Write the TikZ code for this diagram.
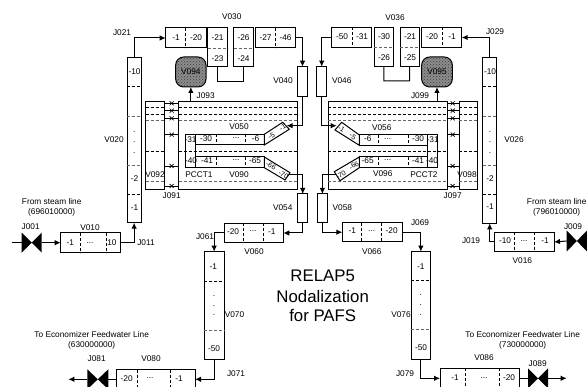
\documentclass[tikz,border=0pt]{standalone}
\usepackage{fontspec}
\setmainfont{Liberation Sans}
\usetikzlibrary{arrows.meta,patterns,calc}
\newcounter{lbcnt}
\newcommand{\bx}[5]{%
  \pgfmathsetmacro{\bxw}{#4-#2}\pgfmathsetmacro{\bxh}{#5-#3}%
  \pgfmathsetmacro{\bxcx}{(#2+#4)/2}\pgfmathsetmacro{\bxcy}{(#3+#5)/2}%
  \node[cell,minimum width=\bxw pt,minimum height=\bxh pt] (#1) at (\bxcx,\bxcy) {};}
\newcommand{\lb}[4][0]{%
  \stepcounter{lbcnt}\node[lbl,rotate=#1] (lb\thelbcnt) at (#2,#3) {#4};}
\newcommand{\slb}[4][0]{%
  \stepcounter{lbcnt}\node[slbl,rotate=#1] (lb\thelbcnt) at (#2,#3) {#4};}
\newcommand{\dvt}[3]{\draw[dv] (#1,#2) -- (#1,#3);}
\newcommand{\dhz}[3]{\draw[dv] (#2,#1) -- (#3,#1);}
\newcommand{\valve}[5]{%
  \fill (#2,#3) -- (#4,#5) -- (#4,#3) -- (#2,#5) -- cycle;
  \coordinate (#1l) at (#2,{(#3+#5)/2});
  \coordinate (#1r) at (#4,{(#3+#5)/2});}
\newcommand{\xlink}[3]{%
  \foreach \yy in {103.3,110.7,118.3,134.7,166,186}{
    \draw[thin line] (#1.east |- 0,\yy) -- (#2.west |- 0,\yy);
    \draw[thin line] (#3-2,\yy-2) -- (#3+2,\yy+2) (#3-2,\yy+2) -- (#3+2,\yy-2);
  }}
\tikzset{
  cell/.style={draw,line width=1pt,inner sep=0pt,outer sep=0pt},
  lbl/.style={font=\fontsize{8.3}{9}\selectfont,inner sep=0pt},
  slbl/.style={font=\fontsize{7}{8}\selectfont,inner sep=0pt},
  big/.style={font=\fontsize{16.8}{18}\selectfont,inner sep=0pt},
  dv/.style={line width=0.7pt,dash pattern=on 3pt off 2pt},
  gdv/.style={line width=0.7pt,dash pattern=on 3pt off 2pt,draw=black!60},
  thin line/.style={line width=0.7pt},
  flow/.style={line width=1pt,-{Latex[length=6pt,width=5.5pt]}},
  pipe/.style={line width=1pt},
  tank/.style={draw,line width=1pt,rounded corners=8pt,inner sep=0pt,outer sep=0pt,
    preaction={fill=black!45},pattern=crosshatch dots,pattern color=black!75},
}
\begin{document}
\begin{tikzpicture}[x=1pt,y=-1pt]
\fill[white] (0,0) rectangle (587,387);
\clip (0,0) rectangle (587,387);
% ---------- top row left
\bx{V030a}{165.7}{28}{206}{48}
\bx{V030b}{207.7}{28}{227.7}{67}
\bx{V030c}{233.7}{28}{253.3}{67}
\bx{V030d}{255.7}{28}{295.7}{48}
\dvt{185}{28}{48}\dvt{275}{28}{48}
\draw[gdv] (207.7,48) -- (227.7,48) (233.7,48) -- (253.3,48);
\draw[pipe] (V030b.south) |- (218,81.7) -- (243.5,81.7) -- (V030c.south);
\lb{176}{37.5}{-1}\lb{196}{37.5}{-20}\lb{217.5}{37.5}{-21}\lb{243.5}{37.5}{-26}\lb{265.5}{37.5}{-27}\lb{285.5}{37.5}{-46}
\lb{217.5}{59}{-23}\lb{243.5}{59}{-24}\lb{231.7}{17}{V030}
% ---------- top row right
\bx{V036a}{331.7}{27.5}{371.7}{47.5}
\bx{V036b}{374}{27.5}{393.7}{66.7}
\bx{V036c}{400}{27.5}{419.3}{66.7}
\bx{V036d}{421.7}{27.5}{461.7}{47.5}
\dvt{352.7}{27.5}{47.5}\dvt{442.3}{27.5}{47.5}
\draw[gdv] (374,47) -- (393.7,47) (400,47) -- (419.3,47);
\draw[pipe] (V036b.south) |- (384,81) -- (409.7,81) -- (V036c.south);
\lb{342}{36.5}{-50}\lb{362}{36.5}{-31}\lb{384}{36.5}{-30}\lb{410}{36.5}{-21}\lb{432}{36.5}{-20}\lb{452}{36.5}{-1}
\lb{384}{58}{-26}\lb{410}{58}{-25}\lb{395}{17.7}{V036}
% ---------- tanks
\node[tank,minimum width=30.3pt,minimum height=30pt] (V094) at (190.85,72) {};
\node[tank,minimum width=30.6pt,minimum height=30pt] (V095) at (437,72) {};
\lb{190.85}{72}{V094}\lb{437}{72}{V095}
% ---------- left heat exchanger
\bx{V092}{145.7}{102}{164.3}{189.3}
\bx{HXL}{178.7}{102}{297}{189.3}
\xlink{V092}{HXL}{171.7}
\foreach \yy in {107.3,114.3,151.7}{\dhz{\yy}{145.7}{164.3}\dhz{\yy}{178.7}{297}}
\foreach \yy in {120.7,181.7}{\draw[gdv] (145.7,\yy) -- (164.3,\yy) (178.7,\yy) -- (297,\yy);}
\draw[flow] (HXL.north -| V094) -- (V094.south);
% tube left
\draw[pipe,fill=white] (264.3,134.3) -- (195.7,134.3) -- (195.7,145) -- (264.3,145) -- cycle;
\draw[pipe,fill=white] (264.3,157) -- (195.7,157) -- (195.7,167.7) -- (264.3,167.7) -- cycle;
\draw[pipe] (195.7,134.3) -- (185.7,134.3) -- (185.7,167.7) -- (195.7,167.7);
\draw[pipe] (195.7,134.3) -- (195.7,167.7);
\draw[pipe,fill=white] (264.3,134.3) -- (282.7,122.3) -- (289.3,129.3) -- (264.3,145) -- cycle;
\draw[pipe,fill=white] (264.3,157) -- (290,172.7) -- (285,180) -- (264.3,167.7) -- cycle;
\dvt{216.7}{134.3}{145}\dvt{245.3}{134.3}{145}\dvt{216.7}{157}{167.7}\dvt{245.3}{157}{167.7}
\coordinate (tipL1) at (286.7,125.7);
\coordinate (tipL2) at (288.5,175);
\lb{190.5}{140}{-31}\lb{206}{139}{-30}\lb{236}{138.5}{...}\lb{255.5}{139}{-6}
\slb[30]{271.5}{136}{-5}\slb[30]{282.5}{127.5}{-1}
\lb{191}{160.3}{-40}\lb{207}{161}{-41}\lb{236}{160}{...}\lb{255}{161}{-65}
\slb[-30]{271}{165.5}{-66}\slb[-30]{283.5}{174.5}{-70}
\lb{239}{127}{V050}\lb{199}{175}{PCCT1}\lb{239}{175}{V090}\lb{155}{175}{V092}\lb{171.7}{196}{J091}\lb{205.7}{96}{J093}
% ---------- right heat exchanger
\bx{HXR}{328.3}{102}{447}{189.3}
\bx{V098}{459}{102}{477.5}{189.3}
\xlink{HXR}{V098}{452.7}
\foreach \yy in {107.3,114.3,151.7}{\dhz{\yy}{328.3}{447}\dhz{\yy}{459}{477.5}}
\foreach \yy in {120.7,181.7}{\draw[gdv] (328.3,\yy) -- (447,\yy) (459,\yy) -- (477.5,\yy);}
\draw[flow] (HXR.north -| V095) -- (V095.south);
\draw[pipe,fill=white] (359.3,135) -- (427.7,135) -- (427.7,145.3) -- (359.3,145.3) -- cycle;
\draw[pipe,fill=white] (359.3,157) -- (427.7,157) -- (427.7,167.7) -- (359.3,167.7) -- cycle;
\draw[pipe] (427.7,135) -- (437.7,135) -- (437.7,167.7) -- (427.7,167.7);
\draw[pipe] (427.7,135) -- (427.7,167.7);
\draw[pipe,fill=white] (359.3,135) -- (341.7,122.3) -- (335,130) -- (359.3,145.3) -- cycle;
\draw[pipe,fill=white] (359.3,157) -- (334.3,171.7) -- (340,180.7) -- (359.3,167.7) -- cycle;
\dvt{378.7}{135}{145.3}\dvt{408.3}{135}{145.3}\dvt{378.7}{157}{167.7}\dvt{408.3}{157}{167.7}
\coordinate (tipR1) at (336.7,125.7);
\coordinate (tipR2) at (336,175);
\slb[-30]{341.5}{128.5}{-1}\slb[-30]{352.7}{136.5}{-5}\lb{367.7}{139}{-6}\lb{387.7}{139.5}{...}\lb{418}{139}{-30}\lb{432.7}{140}{-31}
\slb[30]{354}{165.5}{-66}\slb[30]{341}{175}{-70}\lb{367.7}{161}{-65}\lb{387.7}{160}{...}\lb{418}{161}{-41}\lb{432}{161}{-40}
\lb{381.7}{128}{V056}\lb{382.7}{174}{V096}\lb{424}{175}{PCCT2}\lb{467}{175}{V098}\lb{452.7}{196}{J097}\lb{420}{96}{J099}
% ---------- risers
\bx{V020}{127}{57.7}{141.3}{222.7}
\bx{V026}{482.7}{57.7}{496.7}{223.3}
\foreach \xa/\xb in {127/141.3,482.7/496.7}{
  \dhz{86.7}{\xa}{\xb}\dhz{194}{\xa}{\xb}
  \draw[gdv] (\xa,116.7) -- (\xb,116.7) (\xa,165) -- (\xb,165);
}
\lb{134.5}{71.7}{-10}\lb{134.5}{179}{-2}\lb{134.5}{207.7}{-1}
\lb{134.2}{131.7}{.}\lb{134.2}{141.7}{.}\lb{134.2}{152.7}{.}
\lb{490}{71.7}{-10}\lb{490}{179}{-2}\lb{490}{207}{-1}
\lb{490}{131.7}{.}\lb{490}{141.7}{.}\lb{490}{152.7}{.}
\lb{114}{140}{V020}\lb{514}{140}{V026}\lb{122}{32.3}{J021}\lb{495}{32}{J029}
\draw[flow] (V020.north) |- (V030a.west);
\draw[flow] (V026.north) |- (V036d.east);
% ---------- downcomers
\bx{V040}{297.7}{66.7}{307.3}{96.7}
\bx{V046}{316.7}{66.7}{326.7}{96.7}
\bx{V054}{297.7}{194}{307.7}{223}
\bx{V058}{317.5}{194}{327.3}{223}
\draw[flow] (V030d.east) -| (V040.north);
\draw[flow] (V036a.west) -| (V046.north);
\draw[flow] (V040.south) |- (tipL1);
\draw[flow] (V046.south) |- (tipR1);
\draw[flow] (tipL2) -| (V054.north);
\draw[flow] (tipR2) -| (V058.north);
\lb{283}{81}{V040}\lb{341.7}{81}{V046}\lb{282.7}{208}{V054}\lb{342.3}{208}{V058}
% ---------- V060 / V070 / V080
\bx{V060}{224}{223.3}{283.3}{242.7}
\dvt{243.3}{223.3}{242.7}\dvt{263.3}{223.3}{242.7}
\bx{V070}{204}{251.7}{224.3}{360}
\dhz{281.7}{204}{224.3}
\draw[gdv] (204,330.7) -- (224.3,330.7);
\draw[flow] (V054.south) |- (V060.east);
\draw[flow] (V060.west) -| (V070.north);
\lb{233}{232}{-20}\lb{253}{231}{...}\lb{271.7}{232}{-1}\lb{254}{252}{V060}\lb{205}{237}{J061}
\lb{213.3}{266.7}{-1}\lb{214}{349}{-50}\lb{234.5}{315}{V070}\lb{236}{374}{J071}
\lb{214}{296}{.}\lb{214}{306}{.}\lb{214}{315.5}{.}
\bx{V080}{116.7}{370}{195}{392}
\dvt{137.3}{370}{392}\dvt{170}{370}{392}
\coordinate (inV080) at (V080.east |- 0,379.3);
\draw[flow] (V070.south) |- (inV080);
\lb{126.7}{379}{-20}\lb{150}{378}{...}\lb{179}{379}{-1}\lb{151}{359}{V080}\lb{96.7}{359}{J081}
\lb{91.7}{335}{To Economizer Feedwater Line}\lb{91.7}{345}{(630000000)}
\valve{J081}{87.3}{369.3}{108.3}{389.3}
\coordinate (outL) at (68.3,379.3);
\draw[pipe] (V080.west |- J081r) -- (J081r);
\draw[flow] (J081l) -- (outL);
% ---------- V066 / V076 / V086
\bx{V066}{342.3}{222.7}{402.3}{241.7}
\dvt{361.7}{222.7}{241.7}\dvt{381.7}{222.7}{241.7}
\bx{V076}{411}{251.7}{430.7}{359.3}
\dhz{280.7}{411}{430.7}
\draw[gdv] (411,329.3) -- (430.7,329.3);
\draw[flow] (V058.south) |- (V066.west);
\draw[flow] (V066.east) -| (V076.north);
\lb{352.3}{231}{-1}\lb{371.7}{231}{...}\lb{391.7}{231}{-20}\lb{371.7}{251.7}{V066}\lb{420}{222.7}{J069}
\lb{420.7}{266.5}{-1}\lb{421}{348}{-50}\lb{401}{315}{V076}\lb{405}{374}{J079}
\lb{420.7}{295}{.}\lb{420.7}{305}{.}\lb{420.7}{315}{.}
\bx{V086}{440}{368.3}{519.3}{392}
\dvt{465}{368.3}{392}\dvt{499}{368.3}{392}
\coordinate (inV086) at (V086.west |- 0,378.3);
\draw[flow] (V076.south) |- (inV086);
\lb{455}{378}{-1}\lb{484}{378}{...}\lb{509}{378}{-20}\lb{484}{358}{V086}\lb{537.7}{364}{J089}
\lb{522.7}{335}{To Economizer Feedwater Line}\lb{522.7}{345}{(730000000)}
\valve{J089}{528}{368.3}{548}{388.3}
\coordinate (outR) at (566.7,378.3);
\draw[pipe] (V086.east |- J089l) -- (J089l);
\draw[flow] (J089r) -- (outR);
% ---------- V010
\bx{V010}{60.7}{232.7}{120}{252.7}
\dvt{80.7}{232.7}{252.7}\dvt{106}{232.7}{252.7}
\valve{J001}{21.7}{232.7}{41.7}{252.7}
\coordinate (inL) at (11.7,242.7);
\draw[pipe] (inL) -- (J001l);
\draw[flow] (J001r) -- (V010.west);
\draw[flow] (V010.east) -| (V020.south);
\lb{70.3}{242.5}{-1}\lb{90}{243}{...}\lb{112}{242.5}{10}\lb{90}{227.3}{V010}\lb{30.7}{227}{J001}\lb{146}{242.3}{J011}
\lb{51.7}{202}{From steam line}\lb{51.7}{212}{(696010000)}
% ---------- V016
\bx{V016}{494.3}{232.3}{554}{251.7}
\dvt{514}{232.3}{251.7}\dvt{534.3}{232.3}{251.7}
\valve{J009}{566.7}{230.5}{587}{251.5}
\draw[flow] (J009l) -- (V016.east);
\coordinate (j19) at (V016.west);
\draw[flow] (j19) -- (V026.south |- j19) -- (V026.south);
\lb{505}{241}{-10}\lb{524}{241}{...}\lb{545}{241}{-1}\lb{522.3}{261}{V016}\lb{471}{241}{J019}\lb{573}{227}{J009}
\lb{556.7}{202}{From steam line}\lb{556.7}{212}{(796010000)}
% ---------- title
\node[big] (t1) at (322.7,276) {RELAP5};
\node[big] (t2) at (322.7,296) {Nodalization};
\node[big] (t3) at (322.7,316) {for PAFS};
\end{tikzpicture}
\end{document}
